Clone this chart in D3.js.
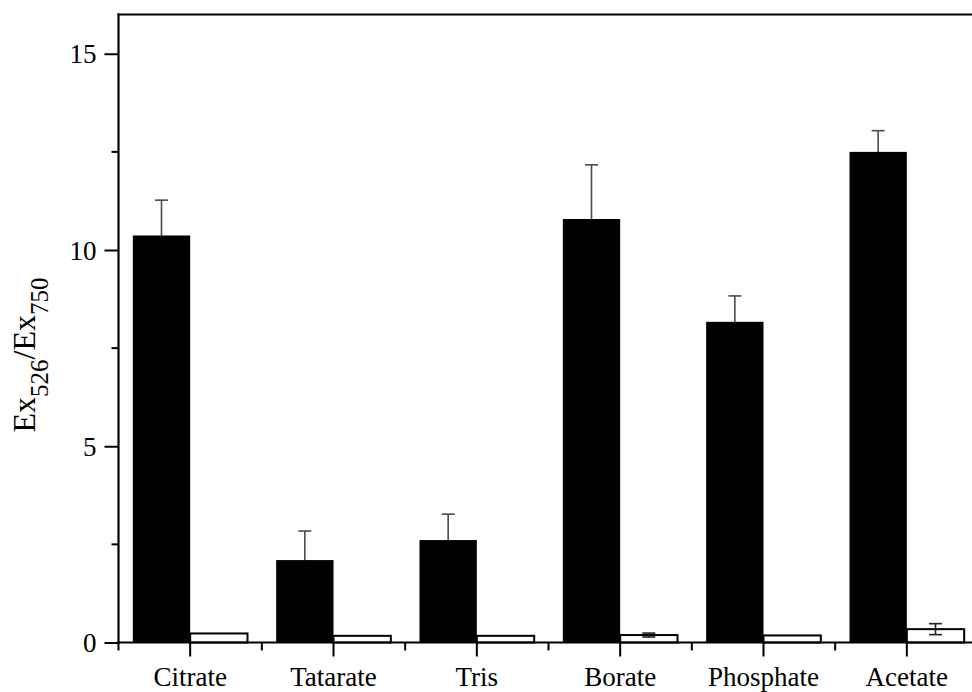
<!DOCTYPE html>
<html>
<head>
<meta charset="utf-8">
<script src="https://cdn.jsdelivr.net/npm/d3@7"></script>
<style>
  html, body { margin: 0; padding: 0; background: #fff; }
  svg { display: block; }
  text { font-family: "Liberation Serif", "Times New Roman", serif; fill: #000; }
</style>
</head>
<body>
<svg id="chart" width="972" height="692"></svg>
<script>
// Buffers and measured excitation ratio (Ex526/Ex750)
const categories = ["Citrate", "Tatarate", "Tris", "Borate", "Phosphate", "Acetate"];
const filledValues = [10.37, 2.10, 2.61, 10.79, 8.17, 12.50];
const filledErrors = [0.90, 0.74, 0.66, 1.38, 0.66, 0.54];
const openValues = [0.23, 0.17, 0.17, 0.19, 0.18, 0.34];
const openErrors = [0, 0, 0, 0.05, 0, 0.14];
const yMajorTicks = [0, 5, 10, 15];
const yMinorTicks = [2.5, 7.5, 12.5];

const svg = d3.select("#chart");
const plotLeft = 118.5, plotRight = 978.5, plotTop = 14.5, plotBottom = 642.5;

const x = d3.scaleBand().domain(categories).range([plotLeft, plotRight]).padding(0);
const sub = d3.scaleBand().domain(["filled", "open"])
  .range([x.bandwidth() * 0.1, x.bandwidth() * 0.9]).padding(0);
const y = d3.scaleLinear().domain([0, 16]).range([plotBottom, plotTop]);

const rows = categories.map((c, i) => ({
  cat: c,
  filled: filledValues[i], filledErr: filledErrors[i],
  open: openValues[i], openErr: openErrors[i]
}));

// Error bars (symmetric; drawn before the filled bars so the lower half sits behind them)
function errorBars(key, errKey, color) {
  const cap = 6.5;
  const eg = svg.append("g").attr("stroke", color).attr("stroke-width", 1.6);
  rows.filter(d => d[errKey] > 0).forEach(d => {
    const cx = x(d.cat) + sub(key) + sub.bandwidth() / 2;
    const hi = y(d[key] + d[errKey]);
    const lo = y(d[key] - d[errKey]);
    eg.append("line").attr("x1", cx).attr("x2", cx).attr("y1", hi).attr("y2", lo);
    eg.append("line").attr("x1", cx - cap).attr("x2", cx + cap).attr("y1", hi).attr("y2", hi);
    eg.append("line").attr("x1", cx - cap).attr("x2", cx + cap).attr("y1", lo).attr("y2", lo);
  });
}
errorBars("filled", "filledErr", "#4a4a4a");

// Bars
const g = svg.append("g");
g.selectAll("rect.filled").data(rows).join("rect")
  .attr("class", "filled")
  .attr("x", d => x(d.cat) + sub("filled"))
  .attr("y", d => y(d.filled))
  .attr("width", sub.bandwidth())
  .attr("height", d => y(0) - y(d.filled))
  .attr("fill", "#000");

g.selectAll("rect.open").data(rows).join("rect")
  .attr("class", "open")
  .attr("x", d => x(d.cat) + sub("open"))
  .attr("y", d => y(d.open))
  .attr("width", sub.bandwidth())
  .attr("height", d => y(0) - y(d.open))
  .attr("fill", "#fff")
  .attr("stroke", "#000")
  .attr("stroke-width", 2);

errorBars("open", "openErr", "#222");

// Y axis
const yAxis = d3.axisLeft(y).tickValues(yMajorTicks).tickSize(14).tickSizeOuter(0).tickPadding(8)
  .tickFormat(d3.format("d"));
const yg = svg.append("g").attr("transform", `translate(${plotLeft},0)`).call(yAxis);
yg.select(".domain").remove();
yg.selectAll(".tick line").attr("stroke", "#000").attr("stroke-width", 2);
yg.selectAll(".tick text").style("font-size", "27px").attr("dy", "0.34em");
yMinorTicks.forEach(v => {
  svg.append("line").attr("x1", plotLeft - 7).attr("x2", plotLeft)
    .attr("y1", y(v)).attr("y2", y(v)).attr("stroke", "#000").attr("stroke-width", 2);
});

// X axis
const xAxis = d3.axisBottom(x).tickSize(14).tickSizeOuter(0).tickPadding(10);
const xg = svg.append("g").attr("transform", `translate(0,${plotBottom})`).call(xAxis);
xg.select(".domain").remove();
xg.selectAll(".tick line").attr("stroke", "#000").attr("stroke-width", 2);
xg.selectAll(".tick text").style("font-size", "27px");
// minor ticks at category boundaries
d3.range(categories.length + 1).map(i => plotLeft + i * x.step()).forEach(px => {
  svg.append("line").attr("x1", px).attr("x2", px)
    .attr("y1", plotBottom).attr("y2", plotBottom + 8).attr("stroke", "#000").attr("stroke-width", 2);
});

// Frame lines
svg.append("line").attr("x1", plotLeft).attr("x2", plotLeft).attr("y1", plotTop - 1).attr("y2", plotBottom + 1)
  .attr("stroke", "#000").attr("stroke-width", 2.2);
svg.append("line").attr("x1", plotLeft - 1).attr("x2", plotRight).attr("y1", plotBottom).attr("y2", plotBottom)
  .attr("stroke", "#000").attr("stroke-width", 2.2);
svg.append("line").attr("x1", plotLeft - 1).attr("x2", plotRight).attr("y1", plotTop).attr("y2", plotTop)
  .attr("stroke", "#000").attr("stroke-width", 2.2);

// Y axis title with subscripts
const title = svg.append("text")
  .attr("transform", `translate(35,355) rotate(-90)`)
  .attr("text-anchor", "middle")
  .style("font-size", "32px");
title.append("tspan").text("Ex");
title.append("tspan").attr("dy", 13).style("font-size", "25px").text("526");
title.append("tspan").attr("dy", -13).text("/Ex");
title.append("tspan").attr("dy", 13).style("font-size", "25px").text("750");
</script>
</body>
</html>
